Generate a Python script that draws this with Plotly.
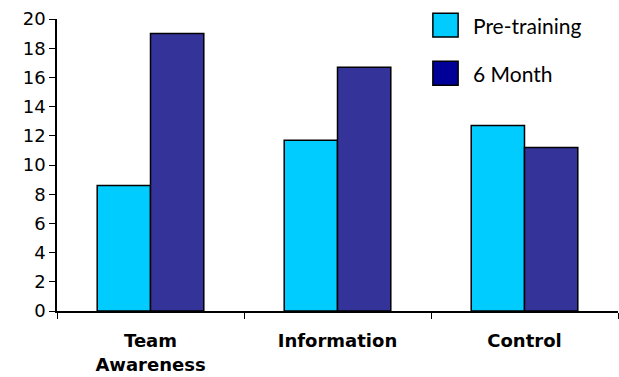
import plotly.graph_objects as go

categories = ["Team<br>Awareness", "Information", "Control"]
series_names = ["Pre-training", "6 Month"]
pre_training = [8.6, 11.7, 12.7]
six_month = [19.0, 16.7, 11.2]
y_ticks = [0, 2, 4, 6, 8, 10, 12, 14, 16, 18, 20]

bar_colors = ["#00CCFF", "#333399"]
legend_colors = ["#00CCFF", "#000099"]

fig = go.Figure()
for name, vals, col in zip(series_names, [pre_training, six_month], bar_colors):
    fig.add_trace(go.Bar(x=categories, y=vals, name=name, marker_color=col,
                         marker_line=dict(color="black", width=1.5), showlegend=False))

# legend drawn as swatches + text
legend_tops = [1.020, 0.855]
for name, col, y0 in zip(series_names, legend_colors, legend_tops):
    fig.add_shape(type="rect", xref="paper", yref="paper",
                  x0=0.670, x1=0.715, y0=y0 - 0.082, y1=y0,
                  fillcolor=col, line=dict(color="black", width=1.5))
    fig.add_annotation(xref="paper", yref="paper", x=0.738, y=y0 - 0.041,
                       text=name, showarrow=False, xanchor="left", yanchor="middle",
                       font=dict(family="Lato", size=21, color="black"))

fig.update_layout(
    width=619, height=377,
    margin=dict(l=57, r=1, t=19, b=66),
    plot_bgcolor="white", paper_bgcolor="white",
    barmode="group", bargap=0.43, bargroupgap=0,
    showlegend=False,
)
fig.update_yaxes(range=[0, 20], tickvals=y_ticks, showgrid=False, zeroline=False,
                 showline=True, linecolor="black", linewidth=1.5,
                 ticks="outside", ticklen=6, tickwidth=1.2, tickcolor="black",
                 tickfont=dict(family="DejaVu Sans", size=18, color="black"))
fig.update_xaxes(showgrid=False, showline=True, linecolor="black", linewidth=1.5,
                 ticks="outside", tickson="boundaries", ticklen=6, tickwidth=1.2,
                 tickcolor="black", ticklabelstandoff=13,
                 tickfont=dict(family="DejaVu Sans", size=18, color="black", weight="bold"))

fig.write_html("out.html")
